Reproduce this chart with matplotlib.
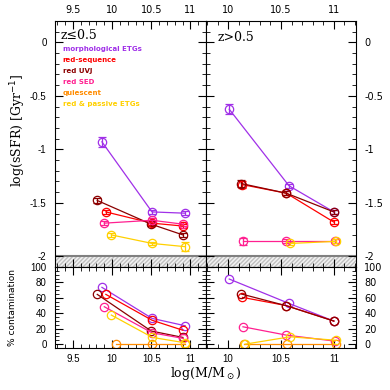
import matplotlib
matplotlib.use("Agg")
import matplotlib.pyplot as plt
import numpy as np
from matplotlib.ticker import MultipleLocator, FormatStrFormatter

# sample names and colours
names = ["morphological ETGs", "red-sequence", "red UVJ", "red SED",
         "quiescent", "red & passive ETGs"]
colors = ["#A030E8", "#FF0000", "#8B0000", "#FF2090", "#FF8C00", "#FFD000"]

# z <= 0.5 : sSFR (log Gyr^-1), errors, and contamination (%)
lo_mass = [[9.87, 10.51, 10.935], [9.92, 10.51, 10.905], [9.81, 10.50, 10.905],
           [9.90, 10.51, 10.91], [10.05, 10.515, 10.935], [9.99, 10.515, 10.935]]
lo_ssfr = [[-0.93, -1.585, -1.597], [-1.585, -1.69, -1.717], [-1.478, -1.70, -1.80],
           [-1.69, -1.663, -1.70], None, [-1.80, -1.88, -1.91]]
lo_err = [[0.05, 0.02, 0.02], [0.02, 0.02, 0.02], [0.02, 0.02, 0.02],
          [0.02, 0.02, 0.02], None, [0.015, 0.015, 0.045]]
lo_cont = [[73.6, 33.4, 23.8], [64.5, 31, 18], [64.5, 17, 8.7],
           [48.5, 14.7, 7.4], [0, 0, 0], [37.7, 8.7, 1.7]]

# z > 0.5
hi_mass = [[10.01, 10.575, 11.0], [10.135, 10.55, 11.0], [10.125, 10.55, 11.0],
           [10.14, 10.55, 11.01], [10.145, 10.56, 11.025], [10.16, 10.585, 11.025]]
hi_ssfr = [[-0.625, -1.34, -1.585], [-1.33, -1.41, -1.68], [-1.32, -1.41, -1.585],
           [-1.86, -1.86, -1.86], None, [None, -1.88, -1.86]]
hi_err = [[0.045, 0.02, 0.02], [0.03, 0.02, 0.02], [0.03, 0.02, 0.02],
          [0.03, 0.02, 0.02], None, [0.0, 0.015, 0.02]]
hi_cont = [[84.4, 52.8, 29.9], [60.6, 50, 30], [65, 49.8, 29.9],
           [22.5, 11.7, 3.9], [0, 0, 0], [0, 9.5, 5]]

fig = plt.figure(figsize=(3.9, 3.9), dpi=100)
W, H = 390.0, 390.0

def box(x0, y0, x1, y1):
    return [x0 / W, 1 - y1 / H, (x1 - x0) / W, (y1 - y0) / H]

ax_ul = fig.add_axes(box(55, 21, 206, 267))
ax_ur = fig.add_axes(box(206, 21, 356, 267))
ax_ll = fig.add_axes(box(55, 267, 206, 348))
ax_lr = fig.add_axes(box(206, 267, 356, 348))

def style(ax, xlim, ylim, ymaj, ymin):
    ax.set_xlim(*xlim)
    ax.set_ylim(*ylim)
    ax.xaxis.set_major_locator(MultipleLocator(0.5))
    ax.xaxis.set_minor_locator(MultipleLocator(0.1))
    ax.yaxis.set_major_locator(MultipleLocator(ymaj))
    ax.yaxis.set_minor_locator(MultipleLocator(ymin))
    ax.xaxis.set_major_formatter(FormatStrFormatter("%g"))
    ax.yaxis.set_major_formatter(FormatStrFormatter("%g"))
    ax.tick_params(which="both", direction="in", top=True, bottom=True,
                   left=True, right=True, labelsize=7)
    ax.tick_params(which="major", length=6, width=0.8)
    ax.tick_params(which="minor", length=3, width=0.6)
    ax.tick_params(axis="y", pad=6)
    ax.tick_params(axis="x", pad=4)
    for lab in ax.get_xticklabels() + ax.get_yticklabels():
        lab.set_fontfamily("Liberation Sans")

style(ax_ul, (9.27, 11.2), (-2.1, 0.2), 0.5, 0.1)
style(ax_ur, (9.79, 11.21), (-2.1, 0.2), 0.5, 0.1)
style(ax_ll, (9.27, 11.2), (-5, 100), 20, 5)
style(ax_lr, (9.79, 11.21), (-5, 100), 20, 5)

for ax in (ax_ul, ax_ur):
    ax.tick_params(labelbottom=False, labeltop=True)
    ax.axhspan(-2.1, -2.0, facecolor="#f2f2f2", edgecolor="#c0c0c0",
               hatch="////////", linewidth=0, zorder=0)
    ax.axhline(-2.0, color="#808080", lw=1.5, zorder=1)
ax_ur.tick_params(labelleft=False, labelright=True)
ax_lr.tick_params(labelleft=False, labelright=True)

def draw(ax, mass, vals, errs):
    for i, c in enumerate(colors):
        if vals[i] is None:
            continue
        x = [m for m, v in zip(mass[i], vals[i]) if v is not None]
        y = [v for v in vals[i] if v is not None]
        e = None
        if errs is not None:
            e = [er for er, v in zip(errs[i], vals[i]) if v is not None]
        ax.errorbar(x, y, yerr=e, color=c, lw=0.9, marker="o", ms=6,
                    mfc="none", mew=0.9, capsize=3, elinewidth=0.9)

draw(ax_ul, lo_mass, lo_ssfr, lo_err)
draw(ax_ur, hi_mass, hi_ssfr, hi_err)
draw(ax_ll, lo_mass, lo_cont, None)
draw(ax_lr, hi_mass, hi_cont, None)

ax_ul.text(9.34, 0.065, "z≤0.5", fontsize=9, family="DejaVu Serif", va="center")
ax_ur.text(9.90, 0.045, "z>0.5", fontsize=9, family="DejaVu Serif", va="center")
for i, (n, c) in enumerate(zip(names, colors)):
    ax_ul.text(9.37, -0.066 - 0.102 * i, n, color=c, fontsize=5.0,
               family="DejaVu Sans", weight="bold", va="center")

fig.text(18 / W, 1 - 130 / H, "log(sSFR) [Gyr$^{-1}$]", rotation=90,
         ha="center", va="center", fontsize=9, family="DejaVu Serif")
fig.text(13 / W, 1 - 308 / H, "% contamination", rotation=90,
         ha="center", va="center", fontsize=6.5, family="DejaVu Sans")
fig.text(206 / W, 1 - 374 / H, "log(M/M$_\\odot$)", ha="center", va="center",
         fontsize=9, family="DejaVu Serif")

fig.savefig("out.png", dpi=100)
